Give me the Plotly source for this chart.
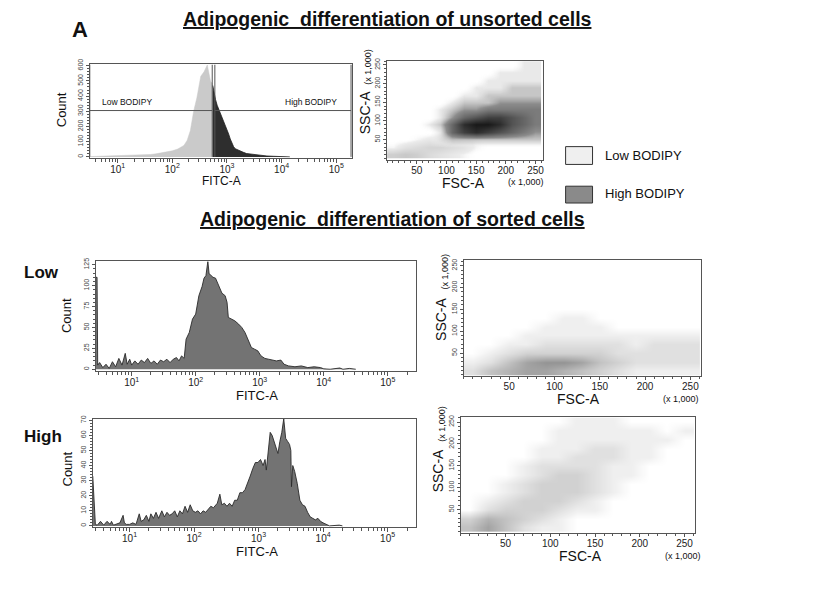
import plotly.graph_objects as go

# ---- values ----
# unsorted population, log10(FITC-A) vs count, split at the gate boundary
UNSORTED_LOW_LOG = [0.5, 0.6, 0.7, 0.8, 0.9, 1.0, 1.1, 1.2, 1.3, 1.4, 1.5, 1.6, 1.7, 1.8, 1.9,
                    2.0, 2.1, 2.15, 2.21, 2.27, 2.33, 2.39, 2.45, 2.52, 2.58, 2.64, 2.67, 2.70, 2.74]
UNSORTED_LOW_COUNT = [2, 3, 3, 4, 5, 5, 6, 7, 8, 10, 12, 16, 20, 26, 32,
                      40, 52, 62, 75, 108, 173, 300, 390, 530, 560, 605, 540, 497, 480]
UNSORTED_HIGH_LOG = [2.74, 2.77, 2.79, 2.82, 2.85, 2.88, 2.91, 2.94, 2.97, 3.0, 3.03, 3.06, 3.09,
                     3.12, 3.15, 3.2, 3.24, 3.3, 3.36, 3.45, 3.55, 3.65, 3.73, 3.85, 3.97, 4.15]
UNSORTED_HIGH_COUNT = [470, 400, 378, 340, 313, 290, 270, 240, 216, 185, 151, 118, 86,
                       68, 54, 45, 39, 30, 22, 17, 13, 9, 6, 4, 2, 0]

# sorted "Low" population
SORTED_LOW_LOG = [0.44, 0.46, 0.47, 0.5, 0.55, 0.6, 0.65, 0.7, 0.75, 0.8, 0.85, 0.9, 0.93, 0.97,
                  1.0, 1.05, 1.1, 1.15, 1.2, 1.25, 1.3, 1.35, 1.4, 1.45, 1.5, 1.55, 1.6, 1.65,
                  1.7, 1.74, 1.78, 1.82, 1.85, 1.9, 1.95, 2.0, 2.05, 2.1, 2.13, 2.16, 2.19, 2.21,
                  2.23, 2.27, 2.31, 2.36, 2.41, 2.46, 2.49, 2.51, 2.56, 2.61, 2.67, 2.72, 2.77,
                  2.82, 2.87, 2.92, 2.97, 3.02, 3.08, 3.14, 3.2, 3.26, 3.33, 3.38, 3.45, 3.55,
                  3.65, 3.75, 3.85, 3.95, 4.0, 4.1, 4.25, 4.3, 4.4, 4.5]
SORTED_LOW_COUNT = [110, 110, 5, 8, 2, 6, 1, 9, 3, 13, 5, 19, 6, 12,
                    5, 10, 6, 11, 8, 13, 7, 10, 6, 11, 9, 12, 8, 12,
                    14, 10, 16, 13, 36, 44, 60, 66, 88, 99, 109, 112, 129, 114,
                    113, 110, 109, 101, 91, 88, 80, 62, 60, 58, 54, 50, 44,
                    35, 26, 24, 22, 16, 13, 12, 11, 10, 11, 6, 4, 3,
                    4, 2, 3, 2, 0.5, 0, 1.5, 0, 1, 0]

# sorted "High" population
SORTED_HIGH_LOG = [0.43, 0.45, 0.47, 0.5, 0.55, 0.6, 0.65, 0.7, 0.72, 0.75, 0.8, 0.85, 0.9, 0.92,
                   0.95, 1.0, 1.05, 1.1, 1.15, 1.18, 1.22, 1.26, 1.3, 1.33, 1.37, 1.41, 1.45, 1.5,
                   1.54, 1.58, 1.62, 1.66, 1.7, 1.74, 1.78, 1.82, 1.86, 1.9, 1.94, 1.98, 2.02,
                   2.06, 2.1, 2.14, 2.18, 2.22, 2.26, 2.3, 2.36, 2.4, 2.43, 2.47, 2.51, 2.55,
                   2.59, 2.63, 2.67, 2.71, 2.75, 2.79, 2.83, 2.87, 2.91, 2.95, 2.99, 3.03, 3.07,
                   3.1, 3.12, 3.15, 3.18, 3.21, 3.24, 3.27, 3.3, 3.33, 3.36, 3.39, 3.42, 3.45,
                   3.48, 3.5, 3.51, 3.53, 3.56, 3.6, 3.64, 3.68, 3.72, 3.76, 3.8, 3.84, 3.88,
                   3.92, 3.96, 4.0, 4.05, 4.1, 4.25, 4.3]
SORTED_HIGH_COUNT = [33, 15, 1, 0.5, 3, 0.5, 3, 1, 3, 0.5, 1, 2, 7, 2,
                     1, 1, 2, 1, 8, 3, 4, 7, 3, 8, 5, 9, 5, 10,
                     6, 9, 7, 8, 10, 6, 10, 8, 13, 9, 14, 10, 9,
                     10, 8, 10, 9, 11, 13, 12, 15, 21, 14, 15, 13, 15,
                     13, 17, 17, 22, 22, 24, 28, 33, 38, 42, 42, 44, 40,
                     44, 37, 52, 62, 60, 56, 52, 48, 56, 62, 71, 58, 56,
                     54, 50, 26, 40, 36, 28, 17, 14, 13, 9, 6, 5, 4,
                     5, 3, 2, 1, 0, 0.5, 0]

# gates on the unsorted histogram (FITC-A) and their level (count)
GATE_LOW = (10 ** 0.49, 537)
GATE_HIGH = (600, 10 ** 5.27)
GATE_LEVEL = 305
GATE_TOP = 608

# dot-plot densities (FSC-A x SSC-A, x1000), rows bottom->top, columns left->right
GRID_CENTERS = [10, 30, 50, 70, 90, 110, 130, 150, 170, 190, 210, 230, 250]
UNSORTED_LOW_DENSITY = [
    [6, 7, 6, 4, 3, 2, 1, 0, 0, 0, 0, 0, 0],
    [1, 3, 4, 5, 5, 4, 3, 1, 0, 0, 0, 0, 0],
    [0, 0, 1, 2, 2, 3, 2, 1, 0, 0, 0, 0, 0],
    [0, 0, 0, 0, 1, 1, 1, 0, 0, 0, 0, 0, 0],
    [0, 0, 0, 0, 0, 0, 0, 0, 0, 0, 0, 0, 0],
    [0, 0, 0, 0, 0, 0, 0, 0, 0, 0, 0, 0, 0],
    [0, 0, 0, 0, 0, 0, 0, 0, 0, 0, 0, 0, 0],
    [0, 0, 0, 0, 0, 0, 0, 0, 0, 0, 0, 0, 0],
    [0, 0, 0, 0, 0, 0, 0, 0, 0, 0, 0, 0, 0],
    [0, 0, 0, 0, 0, 0, 0, 0, 0, 0, 0, 0, 0],
    [0, 0, 0, 0, 0, 0, 0, 0, 0, 0, 0, 0, 0],
    [0, 0, 0, 0, 0, 0, 0, 0, 0, 0, 0, 0, 0],
    [0, 0, 0, 0, 0, 0, 0, 0, 0, 0, 0, 0, 0],
]
UNSORTED_HIGH_DENSITY = [
    [0, 0, 0, 0, 0, 0, 0, 0, 0, 0, 0, 0, 0],
    [0, 0, 0, 0, 0, 0, 0, 0, 0, 0, 0, 0, 0],
    [0, 0, 0, 0, 1, 2, 2, 2, 2, 2, 2, 2, 2],
    [0, 0, 0, 0, 1, 5, 7, 8, 7, 6, 5, 4, 3],
    [0, 0, 0, 1, 2, 5, 8, 9, 9, 8, 6, 5, 4],
    [0, 0, 0, 0, 1, 3, 5, 6, 7, 7, 6, 5, 4],
    [0, 0, 0, 0, 1, 2, 3, 3, 4, 4, 4, 4, 4],
    [0, 0, 0, 0, 0, 1, 2, 2, 2, 3, 3, 3, 3],
    [0, 0, 0, 0, 0, 0, 1, 1, 2, 2, 2, 2, 2],
    [0, 0, 0, 0, 0, 0, 0, 1, 1, 1, 2, 2, 2],
    [0, 0, 0, 0, 0, 0, 0, 0, 1, 1, 1, 1, 1],
    [0, 0, 0, 0, 0, 0, 0, 0, 0, 1, 1, 1, 1],
    [0, 0, 0, 0, 0, 0, 0, 0, 0, 0, 0, 1, 1],
]
SORTED_LOW_DENSITY = [
    [2, 4, 5, 6, 6, 5, 4, 3, 2, 1, 1, 1, 1],
    [1, 2, 4, 6, 7, 7, 6, 4, 3, 2, 2, 2, 2],
    [0, 1, 2, 3, 3, 3, 3, 3, 2, 2, 2, 2, 2],
    [0, 0, 1, 1, 2, 2, 2, 2, 2, 1, 2, 2, 2],
    [0, 0, 0, 1, 1, 1, 1, 1, 1, 1, 1, 1, 1],
    [0, 0, 0, 0, 1, 1, 1, 1, 0, 0, 0, 0, 0],
    [0, 0, 0, 0, 0, 1, 1, 0, 0, 0, 0, 0, 0],
    [0, 0, 0, 0, 0, 0, 0, 0, 0, 0, 0, 0, 0],
    [0, 0, 0, 0, 0, 0, 0, 0, 0, 0, 0, 0, 0],
    [0, 0, 0, 0, 0, 0, 0, 0, 0, 0, 0, 0, 0],
    [0, 0, 0, 0, 0, 0, 0, 0, 0, 0, 0, 0, 0],
    [0, 0, 0, 0, 0, 0, 0, 0, 0, 0, 0, 0, 0],
    [0, 0, 0, 0, 0, 0, 0, 0, 0, 0, 0, 0, 0],
]
SORTED_HIGH_DENSITY = [
    [4, 6, 4, 2, 1, 1, 0, 0, 0, 0, 0, 0, 0],
    [3, 5, 4, 3, 2, 1, 0, 0, 0, 0, 0, 0, 0],
    [0, 2, 3, 3, 3, 2, 1, 1, 0, 0, 0, 0, 0],
    [0, 1, 2, 3, 3, 3, 2, 1, 0, 0, 0, 0, 0],
    [0, 0, 1, 2, 3, 3, 3, 2, 1, 0, 0, 0, 0],
    [0, 0, 1, 2, 3, 3, 3, 2, 1, 0, 0, 0, 0],
    [0, 0, 0, 1, 2, 3, 3, 2, 1, 1, 0, 0, 0],
    [0, 0, 0, 1, 2, 2, 2, 2, 1, 1, 0, 0, 0],
    [0, 0, 0, 0, 1, 1, 2, 2, 2, 1, 1, 0, 0],
    [0, 0, 0, 0, 1, 1, 1, 2, 2, 1, 1, 0, 0],
    [0, 0, 0, 0, 0, 1, 1, 1, 1, 1, 1, 1, 0],
    [0, 0, 0, 0, 0, 1, 1, 1, 1, 1, 1, 0, 1],
    [0, 0, 0, 0, 0, 0, 1, 1, 1, 0, 0, 0, 0],
]

FONT = "Liberation Sans"
# the page keeps its default 8px body margin, so the figure is drawn inside it
PAGE_MARGIN = 8
FIG_W, FIG_H = 819 - 2 * PAGE_MARGIN, 596 - 2 * PAGE_MARGIN


def px(x):
    return (x - PAGE_MARGIN) / FIG_W


def py(y):
    return 1 - (y - PAGE_MARGIN) / FIG_H


DECADES = [1, 2, 3, 4, 5]
LOG_MAJOR = [10 ** n for n in DECADES]
LOG_TEXT = ["10<sup>%d</sup>" % n for n in DECADES]
LOG_MINOR = [k * 10 ** n for n in [0] + DECADES for k in range(2, 10)]


def axis(domain, anchor, **kw):
    d = dict(domain=domain, anchor=anchor, showline=True, mirror=True, linecolor="#555",
             linewidth=1, showgrid=False, zeroline=False, ticks="outside", ticklen=3,
             tickcolor="#555", tickfont=dict(family=FONT, size=10, color="#222"))
    d.update(kw)
    return d


def log_axis(domain, anchor, rng):
    return axis(domain, anchor, type="log", range=rng, tickmode="array", tickvals=LOG_MAJOR,
                ticktext=LOG_TEXT, ticklen=4, ticklabelstandoff=-2,
                minor=dict(tickmode="array", tickvals=LOG_MINOR, ticks="outside", ticklen=3,
                           tickcolor="#555"))


def lin_axis(domain, anchor, rng, major, minor, vertical=False, labels=None):
    kw = dict(range=rng, dtick=major,
              minor=dict(dtick=minor, tick0=0, ticks="outside", ticklen=2, tickcolor="#555"))
    if labels:
        kw.update(tickmode="array", tickvals=labels)
    if vertical:
        kw.update(tickangle=-90, tickfont=dict(family=FONT, size=7, color="#444"))
    else:
        kw.update(ticklabelstandoff=-2)
    return axis(domain, anchor, **kw)


SCATTER_LABELS = [50, 100, 150, 200, 250]

fig = go.Figure()

# -- histograms --
fig.add_trace(go.Scatter(x=[10 ** v for v in UNSORTED_LOW_LOG], y=UNSORTED_LOW_COUNT,
                         fill="tozeroy", fillcolor="#cacaca", line=dict(color="#cacaca", width=0.5),
                         mode="lines", xaxis="x", yaxis="y"))
fig.add_trace(go.Scatter(x=[10 ** v for v in UNSORTED_HIGH_LOG], y=UNSORTED_HIGH_COUNT,
                         fill="tozeroy", fillcolor="#2e2e2e", line=dict(color="#222", width=0.8),
                         mode="lines", xaxis="x", yaxis="y"))
for a, b in (GATE_LOW, GATE_HIGH):
    fig.add_trace(go.Scatter(x=[a, a, None, b, b, None, a, b],
                             y=[0, GATE_TOP, None, 0, GATE_TOP, None, GATE_LEVEL, GATE_LEVEL],
                             mode="lines", line=dict(color="#555", width=1), xaxis="x", yaxis="y"))

for xs, ys, xa, ya in ((SORTED_LOW_LOG, SORTED_LOW_COUNT, "x3", "y3"),
                       (SORTED_HIGH_LOG, SORTED_HIGH_COUNT, "x5", "y5")):
    fig.add_trace(go.Scatter(x=[10 ** v for v in xs], y=ys, fill="tozeroy", fillcolor="#737373",
                             line=dict(color="#2a2a2a", width=0.9), mode="lines", xaxis=xa, yaxis=ya))

# -- dot plots drawn as density maps --
fig.add_trace(go.Heatmap(x=GRID_CENTERS, y=GRID_CENTERS, z=UNSORTED_LOW_DENSITY, zmin=0, zmax=7,
                         zsmooth="best", showscale=False, xaxis="x2", yaxis="y2",
                         colorscale=[[0, "rgba(255,255,255,0)"], [0.2, "rgba(236,236,236,1)"],
                                     [1, "rgba(200,200,200,1)"]]))
fig.add_trace(go.Heatmap(x=GRID_CENTERS, y=GRID_CENTERS, z=UNSORTED_HIGH_DENSITY, zmin=0, zmax=9,
                         zsmooth="best", showscale=False, xaxis="x2", yaxis="y2",
                         colorscale=[[0, "rgba(255,255,255,0)"], [0.11, "rgba(215,215,215,0.55)"],
                                     [0.35, "rgba(140,140,140,1)"], [1, "rgba(25,25,25,1)"]]))
for z, xa, ya in ((SORTED_LOW_DENSITY, "x4", "y4"), (SORTED_HIGH_DENSITY, "x6", "y6")):
    fig.add_trace(go.Heatmap(x=GRID_CENTERS, y=GRID_CENTERS, z=z, zmin=0, zmax=7, zsmooth="best",
                             showscale=False, xaxis=xa, yaxis=ya,
                             colorscale=[[0, "#ffffff"], [0.14, "#efefef"], [0.5, "#cacaca"],
                                         [1, "#949494"]]))

fig.update_layout(
    width=FIG_W, height=FIG_H, margin=dict(l=0, r=0, t=0, b=0),
    paper_bgcolor="white", plot_bgcolor="white", showlegend=False,
    font=dict(family=FONT, color="#111"),
    xaxis=log_axis([px(90), px(353)], "y", [0.49, 5.29]),
    yaxis=lin_axis([py(153), py(59)], "x", [-4, 608], 100, 20, vertical=True),
    xaxis2=lin_axis([px(388), px(544)], "y2", [0, 262], 50, 10, labels=SCATTER_LABELS),
    yaxis2=lin_axis([py(156), py(55)], "x2", [-6, 262], 50, 10, vertical=True, labels=SCATTER_LABELS),
    xaxis3=log_axis([px(96), px(417)], "y3", [0.44, 5.44]),
    yaxis3=lin_axis([py(369), py(258)], "x3", [-2.4, 129], 25, 5, vertical=True),
    xaxis4=lin_axis([px(465), px(703)], "y4", [0, 262], 50, 10, labels=SCATTER_LABELS),
    yaxis4=lin_axis([py(374), py(257)], "x4", [-3, 262], 50, 10, vertical=True, labels=SCATTER_LABELS),
    xaxis5=log_axis([px(93), px(417)], "y5", [0.43, 5.44]),
    yaxis5=lin_axis([py(526), py(417)], "x5", [-0.5, 71], 10, 2, vertical=True),
    xaxis6=lin_axis([px(462), px(697)], "y6", [0, 262], 50, 10, labels=SCATTER_LABELS),
    yaxis6=lin_axis([py(532), py(415)], "x6", [-3, 262], 50, 10, vertical=True, labels=SCATTER_LABELS),
)


def note(text, x, y, size=12, bold=False, angle=0, anchor="center", color="#111"):
    # annotation boxes sit a little below the glyphs' visual centre; nudge them up
    if angle:
        x -= 0.2 * size
    else:
        y -= 0.2 * size
    if bold:
        text = "<b>%s</b>" % text
    fig.add_annotation(text=text, x=px(x), y=py(y), xref="paper", yref="paper", showarrow=False,
                       xanchor=anchor, yanchor="middle", textangle=angle,
                       font=dict(family=FONT, size=size, color=color))


note("A", 80, 28, size=22, bold=True)
note("<u>Adipogenic&#160; differentiation of unsorted cells</u>", 388, 17, size=19.5, bold=True)
note("<u>Adipogenic&#160; differentiation of sorted cells</u>", 393, 219, size=19.5, bold=True)
note("Low", 22, 273, size=17, bold=True, anchor="left")
note("High", 22, 438, size=17, bold=True, anchor="left")

# unsorted panel labels
note("Count", 65, 105, size=13, angle=-90)
note("FITC-A", 222, 179, size=12)
note("Low BODIPY", 100, 99, size=8.5, anchor="left")
note("High BODIPY", 284, 99, size=8.5, anchor="left")
note("SSC-A", 369, 108, size=14, angle=-90)
note("(x 1,000)", 371, 61, size=9, angle=-90)
note("FSC-A", 465, 182, size=14)
note("(x 1,000)", 527, 180, size=9)

# legend
fig.add_shape(type="rect", xref="paper", yref="paper", x0=px(567), x1=px(594), y0=py(160), y1=py(142),
              fillcolor="#efefef", line=dict(color="#333", width=1))
fig.add_shape(type="rect", xref="paper", yref="paper", x0=px(567), x1=px(594), y0=py(199), y1=py(182),
              fillcolor="#8a8a8a", line=dict(color="#333", width=1))
note("Low BODIPY", 604, 154, size=13, anchor="left")
note("High BODIPY", 604, 192, size=13, anchor="left")

# sorted panels labels
for top, fitc_y, scx, ssc_y, xk_y, fsc_x, fsc_y, xk_x in ((313, 396, 445, 317, 268, 580, 400, 683),
                                                         (468, 554, 442, 470, 422, 582, 558, 685)):
    note("Count", 70, top, size=13, angle=-90)
    note("FITC-A", 258, fitc_y, size=13)
    note("SSC-A", scx, ssc_y, size=14, angle=-90)
    note("(x 1,000)", scx + 3, xk_y, size=9, angle=-90)
    note("FSC-A", fsc_x, fsc_y, size=14)
    note("(x 1,000)", xk_x, fsc_y - 1, size=9)

fig.write_html("out.html")
